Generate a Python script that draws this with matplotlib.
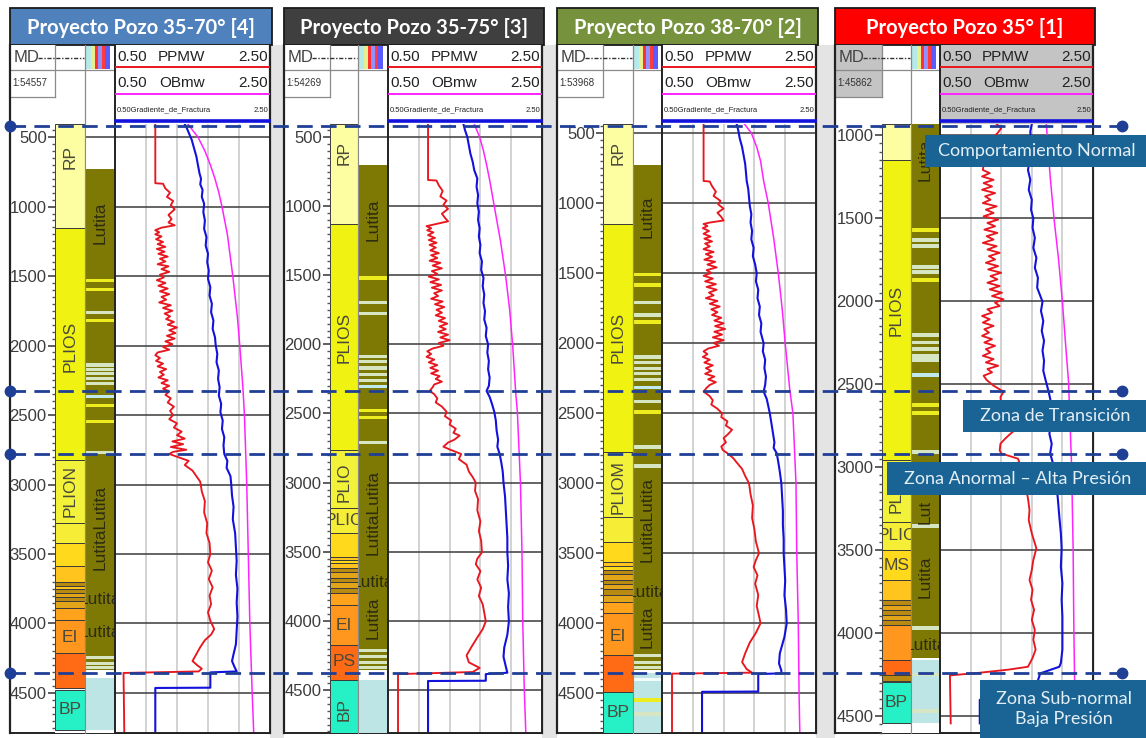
import matplotlib
matplotlib.use("Agg")
import matplotlib.pyplot as plt
from matplotlib import transforms
from matplotlib.patches import Rectangle
from matplotlib.ticker import MultipleLocator

# ---------------------------------------------------------------- data
TITLES = ["Proyecto Pozo 35-70° [4]", "Proyecto Pozo 35-75° [3]",
          "Proyecto Pozo 38-70° [2]", "Proyecto Pozo 35° [1]"]
SCALES = ["1:54557", "1:54269", "1:53968", "1:45862"]
DEPTH_RANGE = [(406, 4788), (406, 4811), (436, 4786), (934, 4602)]
CURVE_NAMES = ["PPMW", "OBmw", "Gradiente_de_Fractura"]
CURVE_MIN, CURVE_MAX = 0.50, 2.50
TRACK_GRID = [0.9, 1.3, 1.7, 2.1]

# (MD, value) pairs per well
POZO4_PPMW = [(406,1.02),(832,1.02),(836,1.12),(870,1.15),(900,1.21),(930,1.17),(960,1.25),(990,1.22),(1020,1.27),(1060,1.19),(1090,1.23),(1115,1.19),(1135,1.27),(1152,1.1),(1170,1.02),
    (1185,1.07),(1200,1.02),(1215,1.1),(1235,1.03),(1255,1.12),(1270,1.05),(1290,1.15),(1305,1.04),(1325,1.14),(1340,1.06),(1360,1.18),(1375,1.08),(1395,1.15),(1415,1.05),(1430,1.19),(1450,1.1),(1470,1.2),(1490,1.08),(1510,1.13),(1530,1.04),(1550,1.15),(1570,1.06),(1590,1.18),(1610,1.08),(1630,1.2),(1650,1.1),(1670,1.16),(1690,1.07),(1710,1.22),(1730,1.12),(1750,1.24),(1770,1.14),(1790,1.21),(1810,1.16),(1830,1.26),(1850,1.18),(1870,1.3),(1890,1.2),(1910,1.28),(1930,1.17),(1950,1.27),(1970,1.15),(1990,1.24),(2010,1.12),(2030,1.2),(2050,1.05),(2070,1.02),(2090,1.08),(2110,1.03),(2130,1.12),(2150,1.05),(2170,1.16),(2190,1.08),(2210,1.13),(2230,1.06),(2250,1.18),(2270,1.1),(2290,1.2),(2310,1.12),(2330,1.2),
    (2355,1.15),(2380,1.22),(2410,1.18),(2440,1.26),(2470,1.21),(2500,1.25),(2530,1.2),(2560,1.3),(2590,1.26),(2620,1.36),(2645,1.3),(2670,1.4),(2690,1.24),(2710,1.38),(2730,1.22),(2750,1.42),(2765,1.25),(2780,1.2),(2800,1.3),(2830,1.45),(2860,1.4),(2900,1.5),(2940,1.55),(2980,1.6),(3050,1.62),(3120,1.66),(3200,1.65),(3280,1.69),(3350,1.68),(3420,1.72),(3500,1.73),(3560,1.7),(3620,1.75),(3680,1.71),(3740,1.76),(3800,1.72),(3860,1.74),(3920,1.7),(3980,1.73),(4040,1.78),(4080,1.74),(4120,1.66),(4170,1.6),(4220,1.55),(4270,1.5),(4300,1.56),(4325,1.62),(4345,1.58),(4356,0.61),(4788,0.62)]
POZO4_OBMW = [(406,1.44),(450,1.50),(500,1.57),(600,1.66),(700,1.73),(800,1.79),(900,1.84),(1000,1.88),(1200,1.95),(1500,2.02),(1800,2.08),(2000,2.11),(2300,2.15),(2500,2.17),(3000,2.20),(3500,2.22),(4000,2.24),(4500,2.27),(4788,2.29)]
POZO4_FRAC = [(406,1.40),(440,1.43),(480,1.46),(520,1.49),(580,1.52),(640,1.55),(700,1.57),(760,1.59),(800,1.61),(840,1.6),(880,1.63),(930,1.62),(980,1.65),(1040,1.64),(1100,1.66),(1160,1.65),(1220,1.68),(1280,1.67),(1340,1.7),(1400,1.69),(1460,1.71),(1520,1.7),(1580,1.73),(1640,1.72),(1700,1.75),(1760,1.74),(1820,1.77),(1880,1.76),(1940,1.79),(2000,1.8),(2060,1.82),(2120,1.81),(2180,1.84),(2240,1.83),(2300,1.85),(2360,1.84),(2420,1.87),(2480,1.86),(2540,1.89),(2600,1.88),(2660,1.91),(2720,1.9),(2780,1.91),(2830,1.95),(2880,1.94),(2940,1.99),(3000,2.0),(3080,2.01),(3160,2.03),(3250,2.02),(3350,2.05),(3450,2.06),(3550,2.07),(3650,2.06),(3750,2.08),(3850,2.07),(3950,2.08),(4050,2.07),(4150,2.06),(4220,2.03),(4270,2.01),(4310,2.04),(4345,2.07),(4352,1.73),(4462,1.73),(4464,1.02),(4788,1.02)]

POZO3_PPMW = [(406,1.02),(811,1.02),(815,1.13),(850,1.16),(890,1.21),(930,1.18),(960,1.26),(990,1.22),(1020,1.28),(1055,1.2),(1085,1.24),(1110,1.28),(1130,1.12),(1145,1.0),
    (1160,1.06),(1175,1.01),(1190,1.09),(1210,1.02),(1230,1.11),(1245,1.03),(1265,1.13),(1280,1.04),(1300,1.12),(1320,1.05),(1340,1.16),(1355,1.06),(1375,1.14),(1395,1.04),(1410,1.18),(1430,1.08),(1450,1.2),(1470,1.07),(1490,1.14),(1510,1.03),(1530,1.16),(1550,1.05),(1570,1.19),(1590,1.07),(1610,1.2),(1630,1.1),(1650,1.15),(1670,1.06),(1690,1.21),(1710,1.11),(1730,1.23),(1750,1.13),(1770,1.2),(1790,1.12),(1810,1.24),(1830,1.16),(1850,1.27),(1870,1.17),(1890,1.25),(1910,1.15),(1930,1.28),(1950,1.18),(1970,1.3),(1990,1.16),(2010,1.22),(2030,1.08),(2050,1.01),(2070,1.06),(2090,1.0),(2110,1.1),(2130,1.03),(2150,1.14),(2170,1.05),(2190,1.15),(2210,1.06),(2230,1.17),(2250,1.12),(2270,1.2),(2290,1.1),(2310,1.08),
    (2337,1.04),(2360,1.1),(2390,1.14),(2420,1.12),(2450,1.2),(2487,1.26),(2520,1.24),(2550,1.32),(2580,1.3),(2610,1.38),(2640,1.35),(2660,1.43),(2690,1.36),(2710,1.28),(2740,1.22),(2760,1.3),(2793,1.45),(2830,1.42),(2870,1.52),(2920,1.55),(2960,1.6),(3000,1.64),(3060,1.63),(3120,1.67),(3200,1.66),(3280,1.7),(3350,1.68),(3420,1.71),(3505,1.72),(3550,1.66),(3590,1.64),(3640,1.7),(3700,1.66),(3760,1.71),(3820,1.68),(3880,1.73),(3940,1.75),(4004,1.77),(4060,1.73),(4120,1.66),(4192,1.58),(4250,1.52),(4300,1.55),(4340,1.69),(4370,1.6),(4385,0.63),(4811,0.63)]
POZO3_OBMW = [(406,1.62),(500,1.69),(600,1.74),(700,1.78),(811,1.82),(1000,1.88),(1250,1.96),(1513,2.03),(1750,2.08),(2013,2.12),(2360,2.16),(2487,2.18),(3000,2.22),(3500,2.24),(4004,2.25),(4500,2.27),(4811,2.29)]
POZO3_FRAC = [(406,1.48),(450,1.5),(500,1.53),(560,1.55),(620,1.57),(680,1.6),(740,1.62),(800,1.66),(860,1.65),(920,1.67),(980,1.66),(1040,1.68),(1100,1.67),(1160,1.69),(1220,1.68),(1280,1.7),(1340,1.69),(1400,1.72),(1460,1.71),(1520,1.74),(1580,1.73),(1640,1.75),(1700,1.74),(1760,1.76),(1820,1.75),(1880,1.78),(1940,1.77),(2000,1.8),(2060,1.79),(2120,1.81),(2180,1.8),(2240,1.82),(2300,1.81),(2337,1.78),(2380,1.82),(2430,1.85),(2487,1.88),(2550,1.9),(2620,1.91),(2690,1.93),(2740,1.92),(2793,1.95),(2850,1.97),(2920,1.99),(3000,2.0),(3100,2.02),(3200,2.03),(3300,2.04),(3400,2.05),(3505,2.05),(3600,2.06),(3700,2.05),(3800,2.07),(3900,2.06),(4004,2.07),(4100,2.05),(4192,2.01),(4260,2.0),(4330,2.03),(4375,2.05),(4385,1.77),(4433,1.77),(4435,1.02),(4811,1.02)]

POZO2_PPMW = [(436,1.04),(843,1.04),(847,1.12),(880,1.15),(920,1.2),(950,1.17),(985,1.26),(1010,1.23),(1040,1.3),(1070,1.22),(1100,1.27),(1125,1.3),(1140,1.12),(1150,1.04),
    (1165,1.09),(1180,1.03),(1200,1.11),(1220,1.04),(1240,1.13),(1255,1.05),(1275,1.15),(1290,1.06),(1310,1.12),(1330,1.04),(1350,1.17),(1365,1.07),(1385,1.15),(1405,1.05),(1420,1.19),(1440,1.09),(1460,1.21),(1480,1.08),(1500,1.14),(1520,1.04),(1540,1.16),(1560,1.06),(1580,1.2),(1600,1.08),(1620,1.21),(1640,1.11),(1660,1.17),(1680,1.07),(1700,1.22),(1720,1.12),(1740,1.25),(1760,1.14),(1780,1.22),(1800,1.15),(1820,1.27),(1840,1.18),(1860,1.3),(1880,1.19),(1900,1.32),(1920,1.18),(1940,1.28),(1960,1.16),(1980,1.3),(2000,1.17),(2020,1.24),(2040,1.1),(2060,1.04),(2080,1.09),(2100,1.03),(2120,1.12),(2140,1.05),(2160,1.16),(2180,1.07),(2200,1.14),(2220,1.06),(2240,1.18),(2260,1.1),(2280,1.2),(2300,1.12),(2320,1.08),
    (2347,1.04),(2380,1.12),(2410,1.16),(2440,1.14),(2470,1.22),(2502,1.28),(2530,1.27),(2560,1.35),(2590,1.33),(2620,1.41),(2650,1.36),(2680,1.3),(2710,1.33),(2740,1.27),(2765,1.29),(2788,1.35),(2820,1.42),(2860,1.48),(2900,1.54),(2950,1.58),(3002,1.63),(3080,1.65),(3160,1.68),(3250,1.67),(3330,1.7),(3420,1.72),(3502,1.76),(3550,1.72),(3600,1.69),(3660,1.74),(3720,1.71),(3800,1.75),(3880,1.73),(3950,1.76),(4002,1.78),(4070,1.72),(4140,1.64),(4217,1.58),(4280,1.54),(4330,1.6),(4355,1.67),(4362,0.63),(4786,0.63)]
POZO2_OBMW = [(436,1.57),(500,1.66),(600,1.73),(700,1.78),(843,1.82),(1002,1.88),(1250,1.95),(1502,2.01),(1750,2.06),(2002,2.1),(2336,2.16),(2502,2.2),(3002,2.24),(3502,2.25),(4002,2.27),(4500,2.28),(4786,2.29)]
POZO2_FRAC = [(436,1.47),(480,1.49),(540,1.51),(600,1.54),(660,1.56),(720,1.58),(780,1.59),(843,1.6),(900,1.62),(960,1.63),(1020,1.64),(1080,1.66),(1140,1.65),(1200,1.67),(1260,1.66),(1320,1.69),(1380,1.68),(1440,1.71),(1502,1.73),(1560,1.72),(1620,1.75),(1680,1.74),(1740,1.77),(1800,1.76),(1860,1.79),(1920,1.78),(2002,1.82),(2060,1.81),(2120,1.84),(2180,1.83),(2240,1.85),(2300,1.84),(2347,1.82),(2400,1.86),(2450,1.88),(2502,1.9),(2570,1.92),(2640,1.94),(2710,1.96),(2750,1.95),(2788,1.99),(2850,2.01),(2920,2.03),(3002,2.05),(3100,2.06),(3200,2.07),(3300,2.07),(3400,2.08),(3502,2.08),(3600,2.09),(3700,2.1),(3800,2.09),(3900,2.11),(4002,2.12),(4100,2.09),(4217,2.03),(4290,2.02),(4340,2.05),(4360,2.05),(4365,1.75),(4490,1.75),(4492,1.02),(4786,1.02)]

POZO1_PPMW = [(934,1.24),(960,1.3),(990,1.25),(1020,1.18),(1060,1.22),(1100,1.12),(1140,1.17),(1180,1.07),(1211,1.06),
    (1230,1.15),(1250,1.05),(1270,1.2),(1290,1.07),(1310,1.18),(1330,1.05),(1350,1.22),(1370,1.09),(1390,1.16),(1410,1.06),(1430,1.24),(1450,1.1),(1470,1.2),(1490,1.07),(1510,1.26),(1530,1.12),(1550,1.22),(1570,1.08),(1590,1.25),(1610,1.11),(1630,1.2),(1650,1.06),(1670,1.24),(1690,1.12),(1710,1.28),(1730,1.14),(1750,1.22),(1770,1.1),(1790,1.26),(1810,1.13),(1830,1.3),(1850,1.16),(1870,1.25),(1890,1.12),(1910,1.28),(1930,1.15),(1950,1.31),(1970,1.18),(1990,1.33),(2010,1.22),(2030,1.28),(2050,1.12),(2070,1.18),(2090,1.05),(2110,1.15),(2130,1.06),(2150,1.2),(2170,1.08),(2190,1.14),(2210,1.05),(2230,1.18),(2250,1.08),(2270,1.22),(2290,1.1),(2310,1.16),(2330,1.06),(2350,1.2),(2370,1.1),(2390,1.26),(2410,1.12),(2430,1.18),(2450,1.07),
    (2476,1.11),(2510,1.2),(2546,1.33),(2580,1.29),(2610,1.3),(2640,1.27),(2677,1.31),(2710,1.38),(2740,1.45),(2770,1.5),(2800,1.42),(2830,1.35),(2860,1.29),(2900,1.28),(2918,1.3),(2950,1.52),(2990,1.55),(3050,1.58),(3120,1.62),(3189,1.65),(3260,1.67),(3320,1.66),(3400,1.7),(3490,1.76),(3560,1.72),(3620,1.7),(3680,1.67),(3740,1.71),(3800,1.69),(3860,1.73),(3920,1.7),(3982,1.74),(4040,1.72),(4100,1.75),(4150,1.71),(4203,1.65),(4220,1.4),(4240,1.0),(4255,0.63),(4544,0.64)]
POZO1_OBMW = [(934,1.89),(1000,1.9),(1250,1.94),(1502,1.99),(1750,2.05),(2004,2.1),(2250,2.14),(2486,2.18),(2988,2.22),(3490,2.24),(3982,2.25),(4300,2.26),(4544,2.27)]
POZO1_FRAC = [(934,1.70),(980,1.68),(1040,1.69),(1100,1.66),(1160,1.67),(1211,1.65),(1270,1.68),(1330,1.66),(1390,1.7),(1450,1.69),(1502,1.72),(1560,1.71),(1620,1.74),(1680,1.72),(1740,1.76),(1800,1.74),(1860,1.78),(1920,1.77),(2004,1.84),(2060,1.82),(2120,1.85),(2180,1.83),(2240,1.86),(2300,1.84),(2360,1.86),(2420,1.85),(2476,1.88),(2546,1.92),(2610,1.95),(2677,1.98),(2740,1.95),(2800,1.93),(2860,1.96),(2918,1.94),(3000,1.99),(3100,2.02),(3189,2.04),(3300,2.06),(3400,2.08),(3490,2.09),(3600,2.08),(3700,2.1),(3800,2.09),(3900,2.1),(3982,2.1),(4100,2.1),(4180,2.08),(4203,2.06),(4243,1.81),(4300,1.77),(4400,1.77),(4402,1.02),(4544,1.02)]

# formation column: (top MD, base MD, unit)
FORM_POZO4 = [(406,1155,'RP'),(1155,2824,'PLIOS'),(2824,3277,'PLION'),(3277,3421,'PLIOB'),(3421,3586,'MS'),(3586,3701,'GOLD'),(3701,3728,'BR1'),(3728,3755,'GOLD'),(3755,3780,'BR1'),(3780,3812,'BR2'),(3812,3840,'BR1'),(3840,3888,'BR2'),(3888,3975,'OR'),(3975,4212,'EI'),(4212,4464,'PS'),(4478,4766,'BP')]
FORM_POZO3 = [(406,1129,'RP'),(1129,2764,'PLIOS'),(2764,3184,'PLION'),(3184,3364,'PLIOB'),(3364,3538,'MS'),(3538,3560,'GOLD'),(3560,3580,'MS'),(3580,3617,'GOLD'),(3617,3650,'BR1'),(3650,3690,'BR2'),(3690,3720,'BR1'),(3720,3760,'BR2'),(3760,3800,'BR1'),(3800,3886,'OR'),(3886,4175,'EI'),(4175,4427,'PS'),(4427,4811,'BP')]
FORM_POZO2 = [(436,1150,'RP'),(1150,2779,'PLIOS'),(2779,3243,'PLION'),(3243,3421,'PLIOB'),(3421,3564,'MS'),(3564,3590,'GOLD'),(3590,3621,'MS'),(3621,3650,'BR1'),(3650,3690,'BR2'),(3690,3720,'BR1'),(3720,3760,'BR2'),(3760,3800,'BR1'),(3800,3850,'BR2'),(3850,3929,'OR'),(3929,4229,'EI'),(4229,4493,'PS'),(4493,4786,'BP')]
FORM_POZO1 = [(934,1150,'RP'),(1150,2960,'PLIOS'),(2960,3331,'PLION'),(3331,3500,'PLIOB'),(3500,3680,'MS'),(3680,3801,'GOLD'),(3801,3830,'BR1'),(3830,3860,'BR2'),(3860,3890,'BR1'),(3890,3920,'BR2'),(3920,3952,'BR1'),(3952,4163,'EI'),(4163,4253,'PS'),(4253,4290,'BR1'),(4295,4542,'BP')]

# formation names: (MD, text, rotated?)
FORM_TEXT_POZO4 = [(645,'RP',1),(2010,'PLIOS',1),(3050,'PLION',1),(4104,'EI',0),(4622,'BP',0)]
FORM_TEXT_POZO3 = [(616,'RP',1),(1947,'PLIOS',1),(3000,'PLIO',1),(3275,'PLIC',0),(4030,'EI',0),(4295,'PS',0),(4640,'BP',1)]
FORM_TEXT_POZO2 = [(643,'RP',1),(1964,'PLIOS',1),(3029,'PLIOM',1),(4100,'EI',0),(4643,'BP',0)]
FORM_TEXT_POZO1 = [(2054,'PLIOS',1),(3215,'PL',1),(3410,'PLIC',0),(3595,'MS',0),(4416,'BP',0)]

# lithology column: (top MD, base MD, lithology)
LITH_POZO4 = [(730,4335,'LUT'),(4392,4766,'ARC')]
LITH_POZO3 = [(703,4355,'LUT'),(4427,4811,'ARC')]
LITH_POZO2 = [(729,4336,'LUT'),(4360,4786,'ARC')]
LITH_POZO1 = [(934,4150,'LUT'),(4163,4542,'ARC')]
# thin interbeds inside the lithology column: (MD, kind)
BEDS_POZO4 = [(1534,'Y'),(1594,'Y'),(1761,'P'),(1817,'Y'),(2140,'P'),(2170,'P'),(2200,'P'),(2235,'P'),(2270,'P'),(2370,'C'),(2430,'Y'),(2550,'Y'),(2773,'P'),(4245,'P'),(4285,'P'),(4320,'P')]
BEDS_POZO3 = [(1520,'Y'),(1700,'P'),(1775,'P'),(2091,'P'),(2127,'P'),(2171,'P'),(2221,'P'),(2258,'P'),(2308,'C'),(2475,'Y'),(2530,'Y'),(2710,'P'),(4215,'P'),(4255,'P'),(4300,'P'),(4340,'P')]
BEDS_POZO2 = [(1514,'Y'),(1586,'Y'),(1714,'P'),(1800,'P'),(1850,'Y'),(2100,'P'),(2140,'P'),(2180,'P'),(2220,'P'),(2264,'P'),(2321,'C'),(2421,'P'),(2493,'Y'),(2743,'P'),(2879,'P'),(4230,'P'),(4280,'P'),(4320,'P'),(4407,'W'),(4550,'Y'),(4650,'P')]
BEDS_POZO1 = [(1572,'Y'),(1632,'P'),(1668,'P'),(1795,'P'),(1825,'P'),(1873,'Y'),(2205,'P'),(2250,'P'),(2290,'P'),(2330,'P'),(2355,'P'),(2446,'C'),(2627,'Y'),(2675,'Y'),(2910,'P'),(3355,'P'),(3970,'P'),(4250,'P'),(4470,'P')]
LITH_TEXT_POZO4 = [(1120,'Lutita',1),(3306,'LutitaLutita',1),(3824,'Lutita',0),(4068,'Lutita',0)]
LITH_TEXT_POZO3 = [(1100,'Lutita',1),(3215,'LutitaLutita',1),(3726,'Lutita',0),(3980,'Lutita',1)]
LITH_TEXT_POZO2 = [(1100,'Lutita',1),(3264,'LutitaLutita',1),(3779,'Lutita',0),(4025,'Lutita',1)]
LITH_TEXT_POZO1 = [(1150,'Lutita',1),(3270,'Lut',1),(3660,'Lutita',1),(4072,'Lutita',0)]

# pressure zones, MD tops on the Pozo 35-70° [4] depth scale
ZONE_TOPS_MD = [421, 2327, 2781, 4356]
ZONE_NAMES = ["Comportamiento Normal", "Zona de Transición",
              "Zona Anormal – Alta Presión", "Zona Sub-normal\nBaja Presión"]

WELLS = [
    (POZO4_PPMW, POZO4_OBMW, POZO4_FRAC, FORM_POZO4, FORM_TEXT_POZO4, LITH_POZO4, BEDS_POZO4, LITH_TEXT_POZO4),
    (POZO3_PPMW, POZO3_OBMW, POZO3_FRAC, FORM_POZO3, FORM_TEXT_POZO3, LITH_POZO3, BEDS_POZO3, LITH_TEXT_POZO3),
    (POZO2_PPMW, POZO2_OBMW, POZO2_FRAC, FORM_POZO2, FORM_TEXT_POZO2, LITH_POZO2, BEDS_POZO2, LITH_TEXT_POZO2),
    (POZO1_PPMW, POZO1_OBMW, POZO1_FRAC, FORM_POZO1, FORM_TEXT_POZO1, LITH_POZO1, BEDS_POZO1, LITH_TEXT_POZO1),
]

# ---------------------------------------------------------------- style
UNIT_COLORS = {'RP': '#fdfda2', 'PLIOS': '#f0f212', 'PLION': '#f3f23a', 'PLIOB': '#f6ee36',
               'MS': '#ffda1c', 'GOLD': '#ffc41e', 'BR1': '#b98a12', 'BR2': '#e2a418',
               'OR': '#ffa21c', 'EI': '#ff961e', 'PS': '#ff6a14', 'BP': '#26f0c6'}
LITH_COLORS = {'LUT': '#7e7905', 'ARC': '#bde5e6'}
BED_COLORS = {'Y': '#ecec1e', 'P': '#d6e6c2', 'C': '#bfe9ec', 'W': '#f4fbfb'}
CURVE_COLORS = ['#e8161e', '#ff24ff', '#1212dc']
TITLE_COLORS = ['#4f81bd', '#3f3f3f', '#76923c', '#ff0000']
ZONE_LINE = '#1f3f96'
ZONE_BOX = '#196494'

SANS = ['Liberation Sans', 'DejaVu Sans']
TFONT = ['Lato', 'DejaVu Sans']

W, H = 1146, 738
# column edges of each log: left frame, MD|formation, formation|lithology, lithology|curves, right
PANEL_X = [(10, 55, 85, 115, 270), (284, 330, 358, 388, 542),
           (557, 603, 633, 662, 816), (835, 882, 911, 940, 1093)]
Y_TITLE, Y_ROW1, Y_ROW2, Y_DATA0, Y_DATA1 = (8, 45), 45, 70, 124, 733
Y_ROW3 = 97
BED_HALF = 11
ZONE_BOXES = [(925, 135, 1146, 167), (963, 400, 1146, 432),
              (887, 462, 1146, 495), (980, 680, 1146, 738)]

fig = plt.figure(figsize=(W / 100, H / 100), dpi=100)
fig.patch.set_facecolor('white')


def frac(x0, y0, x1, y1):
    return [x0 / W, 1 - y1 / H, (x1 - x0) / W, (y1 - y0) / H]


bg = fig.add_axes([0, 0, 1, 1], zorder=-5)
bg.set_xlim(0, W)
bg.set_ylim(H, 0)
bg.axis('off')

tracks = []
for i, (L, c1, c2, c3, R) in enumerate(PANEL_X):
    ppmw, obmw, frac_g, form, form_txt, lith, beds, lith_txt = WELLS[i]
    top, bottom = DEPTH_RANGE[i]

    # gutter between logs
    if i < 3:
        nxt = PANEL_X[i + 1][0]
        bg.add_patch(Rectangle((R, Y_ROW1), nxt - R, H - Y_ROW1, fc='#e4e4e4', ec='none'))

    # title bar
    bg.add_patch(Rectangle((L, Y_TITLE[0]), R + 2 - L, Y_TITLE[1] - Y_TITLE[0],
                           fc=TITLE_COLORS[i], ec='#1a1a1a', lw=1.3))
    bg.text((L + R + 2) / 2, (Y_TITLE[0] + Y_TITLE[1]) / 2 + 1, TITLES[i], color='white',
            fontsize=14.5, fontweight='bold', family=TFONT, ha='center', va='center')

    # header cells
    hdr_bg = '#c4c4c4' if i == 3 else 'white'
    bg.add_patch(Rectangle((L, Y_ROW1), c1 - L, Y_ROW3 - Y_ROW1, fc=hdr_bg, ec='none'))
    bg.add_patch(Rectangle((c3, Y_ROW1), R - c3, Y_DATA0 - Y_ROW1, fc=hdr_bg, ec='none'))
    for yy, x0, x1 in [(Y_ROW2, L, c3), (Y_ROW3, L, c1)]:
        bg.plot([x0, x1], [yy, yy], color='#8a8a8a', lw=0.9)
    bg.plot([c1, c1], [Y_ROW1, Y_ROW3], color='#8a8a8a', lw=0.9)
    bg.plot([c2, c2], [Y_ROW1, Y_DATA0], color='#8a8a8a', lw=0.9)
    bg.plot([c3, c3], [Y_ROW1, Y_DATA0], color='#222222', lw=1.4)
    bg.plot([R, R], [Y_ROW1, Y_DATA1], color='#222222', lw=1.6)
    bg.plot([L, L], [Y_ROW1, Y_DATA1], color='#222222', lw=1.6)
    bg.plot([L, R], [Y_DATA1, Y_DATA1], color='#222222', lw=1.4)

    bg.text(L + 4, 58, 'MD', family=SANS, fontsize=12, color='#444', ha='left', va='center')
    bg.plot([L + 28, c2 - 1], [58, 58], color='#333', lw=1.0, ls=(0, (3, 1.2, 1, 1.2)))
    stripes = [(1, 6, '#b5eaea'), (6, 10, '#e6f08e'), (10, 13, '#ff3030'),
               (13, 17, '#9090ff'), (17, 20, '#ff3a3a'), (20, 25, '#5a5aff')]
    for a, b, col in stripes:
        bg.add_patch(Rectangle((c2 + a, Y_ROW1 + 1), b - a, Y_ROW2 - Y_ROW1 - 2, fc=col, ec='none'))
    bg.text(L + 2, 83, SCALES[i], family=SANS, fontsize=7, color='#333', ha='left', va='center')

    mid = c3 + 0.43 * (R - c3)
    for row_y, line_y, name, col in [(57, 67, CURVE_NAMES[0], CURVE_COLORS[0]),
                                     (83, 94, CURVE_NAMES[1], CURVE_COLORS[1])]:
        bg.text(c3 + 2, row_y, f'{CURVE_MIN:.2f}', family=SANS, fontsize=11, color='#222', ha='left', va='center')
        bg.text(mid, row_y, name, family=SANS, fontsize=11, color='#222', ha='center', va='center')
        bg.text(R - 2, row_y, f'{CURVE_MAX:.2f}', family=SANS, fontsize=11, color='#222', ha='right', va='center')
        bg.plot([c3 + 1, R - 1], [line_y, line_y], color=col, lw=1.4)
    bg.text(c3 + 2, 110, f'{CURVE_MIN:.2f}' + CURVE_NAMES[2], family=SANS, fontsize=5.5,
            color='#222', ha='left', va='center')
    bg.text(R - 2, 110, f'{CURVE_MAX:.2f}', family=SANS, fontsize=5.5, color='#222', ha='right', va='center')
    bg.plot([c3 + 1, R - 1], [121, 121], color=CURVE_COLORS[2], lw=2.6)

    majors = [d for d in range(500, 5000, 500) if top <= d <= bottom]

    # formation column (carries the MD scale)
    af = fig.add_axes(frac(c1, Y_DATA0, c2, Y_DATA1))
    af.set_xlim(0, 1)
    af.set_ylim(bottom, top)
    for t, b, u in form:
        af.axhspan(t, b, fc=UNIT_COLORS[u], ec='#3a3a3a', lw=0.7)
    for d, txt, rot in form_txt:
        af.text(0.5, d, txt, rotation=90 if rot else 0, ha='center', va='center',
                family=SANS, fontsize=12.5, color='#4a4a3a', clip_on=True)
    af.set_yticks(majors)
    af.set_yticklabels([str(d) for d in majors], family=SANS, fontsize=12, color='#3c3c3c')
    af.yaxis.set_minor_locator(MultipleLocator(50))
    af.tick_params(axis='y', which='major', length=5, width=1.1, color='#333', pad=1)
    af.tick_params(axis='y', which='minor', length=2.5, width=1.0, color='#555')
    af.set_xticks([])
    for s in ('left', 'top', 'bottom'):
        af.spines[s].set_visible(False)
    af.spines['right'].set_color('#8a8a8a')
    af.spines['right'].set_linewidth(0.8)

    # lithology column
    al = fig.add_axes(frac(c2, Y_DATA0, c3, Y_DATA1), sharey=af)
    al.set_xlim(0, 1)
    for d in majors:
        al.axhline(d, color='#4a4a4a', lw=1.2, zorder=0.5)
    for t, b, k in lith:
        al.axhspan(t, b, fc=LITH_COLORS[k], ec='none', zorder=1)
    for d, k in beds:
        al.axhspan(d - BED_HALF, d + BED_HALF, fc=BED_COLORS[k], ec='none', zorder=1.2)
    for d, txt, rot in lith_txt:
        al.text(0.5, d, txt, rotation=90 if rot else 0, ha='center', va='center',
                family=SANS, fontsize=12.5, color='#2e2c10', clip_on=True, zorder=3)
    al.set_xticks([])
    al.tick_params(axis='y', which='both', left=False, labelleft=False)
    for s in ('top', 'bottom'):
        al.spines[s].set_visible(False)
    for s in ('left', 'right'):
        al.spines[s].set_color('#8a8a8a')
        al.spines[s].set_linewidth(0.8)

    # curve track
    at = fig.add_axes(frac(c3, Y_DATA0, R, Y_DATA1), sharey=af)
    at.set_xlim(CURVE_MIN, CURVE_MAX)
    for x in TRACK_GRID:
        at.axvline(x, color='#c6c6c6', lw=1.1, zorder=0.5)
    for d in majors:
        at.axhline(d, color='#4a4a4a', lw=1.2, zorder=0.6)
    for series, col, lw in [(ppmw, CURVE_COLORS[0], 1.35), (frac_g, CURVE_COLORS[2], 1.5),
                            (obmw, CURVE_COLORS[1], 1.1)]:
        at.plot([v for _, v in series], [d for d, _ in series], color=col, lw=lw, zorder=2)
    at.set_xticks([])
    at.tick_params(axis='y', which='both', left=False, labelleft=False)
    at.spines['top'].set_visible(False)
    for s in ('left', 'right', 'bottom'):
        at.spines[s].set_color('#222222')
        at.spines[s].set_linewidth(1.4)
    at.set_ylim(bottom, top)
    tracks.append(at)

# pressure-zone overlay
ov = fig.add_axes([0, 0, 1, 1], zorder=20)
ov.set_xlim(0, W)
ov.set_ylim(H, 0)
ov.patch.set_visible(False)
ov.axis('off')
ov.set_autoscale_on(False)
blend = transforms.blended_transform_factory(ov.transData, tracks[0].transData)
for md in ZONE_TOPS_MD:
    ov.plot([10, 1122], [md, md], transform=blend, color=ZONE_LINE, lw=2.0,
            dashes=(5.6, 3.0), zorder=1)
    ov.plot([10, 1122], [md, md], transform=blend, ls='none', marker='o', ms=7.5,
            color=ZONE_LINE, zorder=1)
for (x0, y0, x1, y1), name in zip(ZONE_BOXES, ZONE_NAMES):
    ov.add_patch(Rectangle((x0, y0), x1 - x0, y1 - y0, fc=ZONE_BOX, ec='none', zorder=3))
    ov.text((x0 + x1) / 2 + 1, (y0 + y1) / 2, name, color='#e4eef5', fontsize=13,
            family=TFONT, ha='center', va='center', linespacing=1.25, zorder=4)

fig.savefig('out.png', dpi=100, facecolor='white')
